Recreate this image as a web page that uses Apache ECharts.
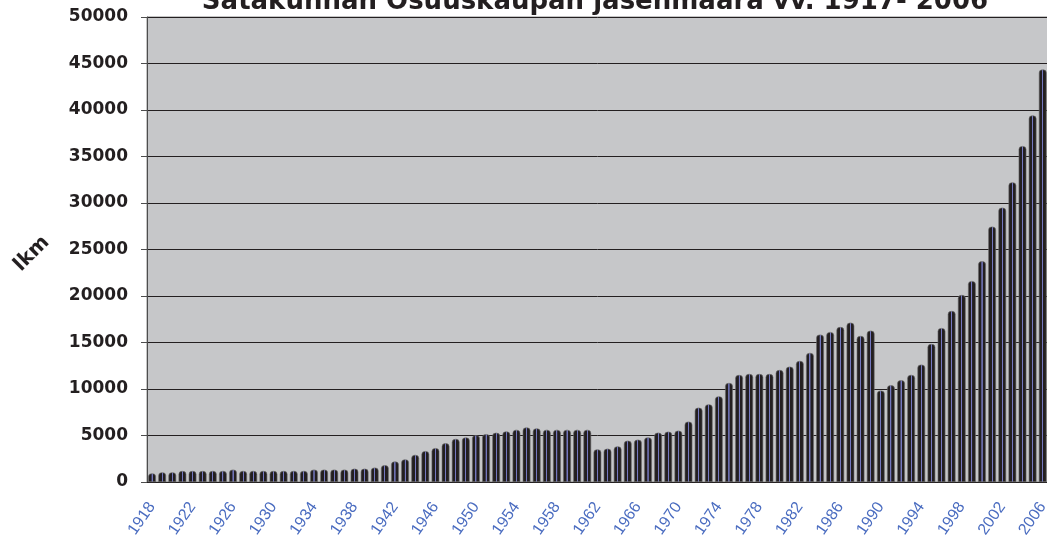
<!DOCTYPE html>
<html>
<head>
<meta charset="utf-8">
<title>Satakunnan Osuuskaupan jäsenmäärä</title>
<script src="https://cdn.jsdelivr.net/npm/echarts@6/dist/echarts.min.js"></script>
<style>
    html, body { margin: 0; padding: 0; background: #fff; overflow: hidden; }
    #chart { width: 1051px; height: 543px; }
</style>
</head>
<body>
<div id="chart"></div>
<script>
    // vuodet 1918 - 2006
    var years = [];
    for (var y = 1918; y <= 2006; y++) years.push(String(y));

    // jäsenmäärä (luettu kuvasta)
    var members = [
        930, 1040, 1040, 1180, 1180, 1180, 1180, 1180, 1330, 1180,
        1180, 1180, 1180, 1180, 1180, 1180, 1330, 1330, 1330, 1330,
        1430, 1430, 1550, 1800, 2200, 2430, 2910, 3320, 3640, 4160,
        4630, 4780, 5030, 5140, 5290, 5430, 5610, 5860, 5760, 5610,
        5610, 5610, 5610, 5610, 3510, 3580, 3830, 4440, 4550, 4800,
        5300, 5410, 5520, 6490, 7990, 8350, 9210, 10640, 11500, 11610,
        11610, 11610, 12040, 12400, 13010, 13870, 15850, 16120, 16660, 17130,
        15700, 16270, 9830, 10400, 10940, 11510, 12620, 14840, 16550, 18380,
        20100, 21600, 23740, 27460, 29500, 32220, 36120, 39410, 44350
    ];

    var yTicks = { min: 0, max: 50000, step: 5000 };
    var titleText = 'Satakunnan Osuuskaupan jäsenmäärä vv. 1917- 2006';
    var yName = 'lkm';

    var dark = '#231f20';
    var boldFont = 'DejaVu Sans';

    var chart = echarts.init(document.getElementById('chart'));

    var barColor = new echarts.graphic.LinearGradient(0, 0, 1, 0, [
        { offset: 0, color: dark },
        { offset: 0.42, color: dark },
        { offset: 0.44, color: '#7478c0' },
        { offset: 0.56, color: '#7478c0' },
        { offset: 0.58, color: dark },
        { offset: 1, color: dark }
    ]);

    var option = {
        animation: false,
        title: {
            text: titleText,
            left: 595,
            top: -11,
            padding: 0,
            textAlign: 'center',
            textStyle: {
                fontFamily: boldFont,
                fontWeight: 'bold',
                fontSize: 26,
                color: dark
            }
        },
        grid: {
            left: 147,
            right: 0,
            top: 17,
            bottom: 61,
            show: true,
            backgroundColor: '#c6c7c9',
            borderColor: '#8a8a8a',
            borderWidth: 1
        },
        xAxis: {
            type: 'category',
            data: years,
            boundaryGap: true,
            axisLine: { lineStyle: { color: dark, width: 1 } },
            axisTick: { interval: 0, length: 5, lineStyle: { color: '#555' } },
            axisLabel: {
                interval: 3,
                rotate: 55,
                margin: 22,
                color: '#4a6cc0',
                fontFamily: 'Liberation Sans',
                fontSize: 16
            }
        },
        yAxis: {
            type: 'value',
            min: yTicks.min,
            max: yTicks.max,
            interval: yTicks.step,
            name: yName,
            nameLocation: 'middle',
            nameRotate: 45,
            nameGap: 111,
            nameTextStyle: {
                align: 'center',
                verticalAlign: 'middle',
                padding: [12, 12, 0, 0],
                fontFamily: boldFont,
                fontWeight: 'bold',
                fontSize: 20,
                color: dark
            },
            axisLine: { show: true, lineStyle: { color: '#4d4d4d', width: 1 } },
            axisTick: { show: true, inside: false, length: 6, lineStyle: { color: '#4d4d4d' } },
            axisLabel: {
                margin: 19,
                fontFamily: boldFont,
                fontWeight: 'bold',
                fontSize: 17,
                color: dark,
                formatter: function (v) { return String(v); }
            },
            splitLine: { lineStyle: { color: dark, width: 1 } }
        },
        series: [
            {
                name: 'lkm',
                type: 'bar',
                data: members,
                barWidth: '76%',
                itemStyle: {
                    color: barColor,
                    borderColor: '#6a6a6a',
                    borderWidth: 0.6,
                    borderRadius: [3, 3, 0, 0]
                }
            }
        ]
    };

    chart.setOption(option);
</script>
</body>
</html>
